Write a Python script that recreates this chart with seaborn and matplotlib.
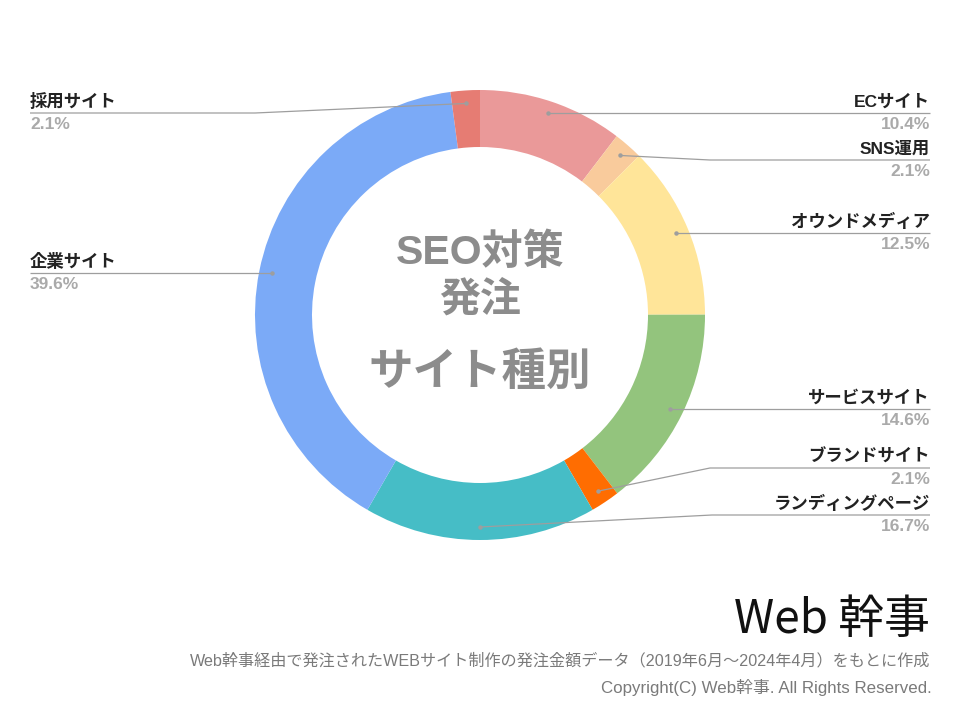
import numpy as np
import matplotlib
matplotlib.use("Agg")
import matplotlib.pyplot as plt
import seaborn as sns

sns.set_style("white")
plt.rcParams['font.family'] = ['Liberation Sans', 'Noto Sans CJK JP', 'DejaVu Sans']

# ---- data (clockwise from top) ----
categories = ["ECサイト", "SNS運用", "オウンドメディア", "サービスサイト",
              "ブランドサイト", "ランディングページ", "企業サイト", "採用サイト"]
values = [10.4, 2.1, 12.5, 14.6, 2.1, 16.7, 39.6, 2.1]
pct_labels = ["10.4%", "2.1%", "12.5%", "14.6%", "2.1%", "16.7%", "39.6%", "2.1%"]
colors = ["#ea9999", "#f9cb9c", "#ffe599", "#93c47d",
          "#ff6d01", "#46bdc6", "#7baaf7", "#e67c73"]
center_lines = ["SEO対策", "発注", "サイト種別"]
note = "Web幹事経由で発注されたWEBサイト制作の発注金額データ（2019年6月～2024年4月）をもとに作成"
copyright_txt = "Copyright(C) Web幹事. All Rights Reserved."

# ---- layout (pixel coords, y from top) ----
W, H = 960, 720
cx, cy, R = 480, 315, 225
ring_w = 57
label_y = [113, 160, 233, 409, 468, 515, 273, 113]
side = ["R", "R", "R", "R", "R", "R", "L", "L"]
elbow_x = [None, 710, None, None, 710, 712, None, 255]

fig = plt.figure(figsize=(9.6, 7.2), dpi=100)
ax = fig.add_axes([0, 0, 1, 1])

def Y(y):
    return H - y

pal = sns.color_palette(colors)
wedges, _ = ax.pie(values, colors=pal, startangle=90, counterclock=False,
                   center=(cx, Y(cy)), radius=R, frame=True,
                   wedgeprops=dict(width=ring_w, edgecolor='none', linewidth=0))
ax.set_xlim(0, W)
ax.set_ylim(0, H)
ax.set_aspect('equal')
ax.axis('off')

total = sum(values)
cum = np.cumsum([0] + values[:-1])
line_col = "#9e9e9e"
for i, cat in enumerate(categories):
    mid = (cum[i] + values[i] / 2) / total * 2 * np.pi
    r = 212
    dx = cx + r * np.sin(mid)
    dy = cy - r * np.cos(mid)
    ly = label_y[i]
    end = 930 if side[i] == "R" else 30
    ha = 'right' if side[i] == "R" else 'left'
    if elbow_x[i]:
        xs = [dx, elbow_x[i], end]
        ys = [dy, ly, ly]
    else:
        xs = [dx, end]
        ys = [ly, ly]
    ax.plot(xs, [Y(v) for v in ys], color=line_col, lw=0.9, solid_capstyle='butt')
    ax.plot([xs[0]], [Y(ys[0])], 'o', ms=2.2, color=line_col)
    ax.text(end, Y(ly - 3), cat, ha=ha, va='bottom', fontsize=12.5,
            fontweight='bold', color='#222222')
    ax.text(end, Y(ly + 4), pct_labels[i], ha=ha, va='top', fontsize=12.5,
            fontweight='bold', color='#aaaaaa')

# center text
gray = '#8c8c8c'
ax.text(cx, Y(252), center_lines[0], ha='center', va='center', fontsize=29.5,
        fontweight='bold', color=gray)
ax.text(cx, Y(300), center_lines[1], ha='center', va='center', fontsize=29.5,
        fontweight='bold', color=gray)
ax.text(cx, Y(373), center_lines[2], ha='center', va='center', fontsize=32,
        fontweight='bold', color=gray)

# footer logo and notes
ax.text(930, Y(620), "Web 幹事", ha='right', va='center', fontsize=33,
        color='#111111', family=['Noto Sans CJK JP'])
ax.text(930, Y(661), note, ha='right', va='center', fontsize=11.6, color='#7a7a7a')
ax.text(932, Y(688), copyright_txt, ha='right', va='center', fontsize=12.2, color='#7a7a7a')

fig.savefig("out.png", dpi=100, facecolor='white')
